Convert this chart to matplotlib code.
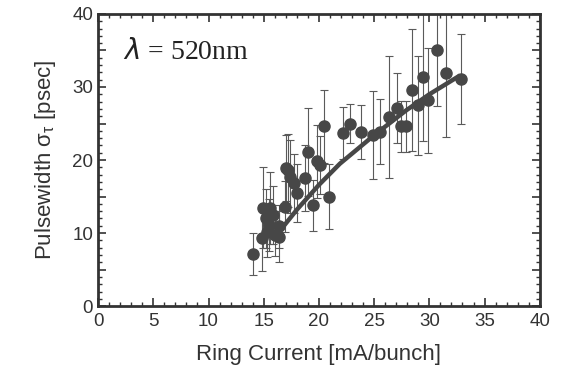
import numpy as np
import matplotlib.pyplot as plt
from matplotlib.ticker import MultipleLocator, FuncFormatter

plt.rcParams.update({
    "font.family": "Liberation Sans",
    "mathtext.default": "regular",
    "xtick.direction": "in",
    "ytick.direction": "in",
    "xtick.top": True,
    "ytick.right": True,
})

# ring current [mA/bunch], pulsewidth [psec], error [psec]
current = [14.0, 14.8, 14.9, 15.2, 15.3, 15.5, 15.6, 15.8, 16.0, 16.4,
           16.4, 16.9, 17.0, 17.2, 17.4, 17.7, 18.0, 18.7, 19.0, 19.5,
           19.8, 20.1, 20.5, 20.9, 22.2, 22.8, 23.8, 24.9, 25.5, 26.3,
           27.1, 27.4, 27.9, 28.4, 29.0, 29.4, 29.9, 30.7, 31.5, 32.9]
width = [7.1, 9.3, 13.5, 12.0, 10.2, 11.1, 13.4, 12.5, 9.8, 9.5,
         10.9, 13.6, 18.9, 18.6, 17.7, 16.8, 15.5, 17.5, 21.1, 13.8,
         19.8, 19.3, 24.6, 15.0, 23.7, 25.0, 23.9, 23.4, 23.9, 25.9,
         27.1, 24.6, 24.6, 29.6, 27.5, 31.3, 28.2, 35.1, 31.9, 31.1]
err = [2.9, 4.5, 5.5, 4.0, 3.5, 3.5, 4.9, 4.0, 3.0, 3.5,
       3.0, 3.5, 4.5, 5.0, 5.0, 4.0, 4.0, 4.5, 6.0, 3.5,
       5.0, 4.0, 5.0, 4.5, 3.5, 2.7, 3.7, 6.0, 4.5, 8.3,
       4.8, 3.5, 3.5, 8.4, 6.8, 8.7, 7.2, 7.7, 8.8, 6.2]

# fitted curve
fit_x = [16.3, 18.0, 20.0, 21.9, 25.0, 27.9, 30.0, 32.8]
fit_y = [10.0, 13.2, 16.6, 19.5, 23.4, 26.8, 29.0, 31.6]

DARK = "#474747"

fig = plt.figure(figsize=(5.67, 3.87), dpi=100)
ax = fig.add_axes([0.173, 0.209, 0.779, 0.755])

ax.errorbar(current, width, yerr=err, fmt="none", ecolor="#5a5a5a",
            elinewidth=0.8, capsize=3, capthick=0.8, zorder=2)
ax.plot(fit_x, fit_y, color=DARK, lw=3.2, solid_capstyle="butt", zorder=3)
ax.plot(current, width, "o", color=DARK, markersize=8, zorder=4)

ax.set_xlim(0, 40)
ax.set_ylim(0, 40)
ax.xaxis.set_major_locator(MultipleLocator(5))
ax.xaxis.set_minor_locator(MultipleLocator(1))
ax.yaxis.set_major_locator(MultipleLocator(5))
ax.yaxis.set_minor_locator(MultipleLocator(1))
ax.yaxis.set_major_formatter(FuncFormatter(lambda v, p: f"{int(v)}" if v % 10 == 0 else ""))
ax.tick_params(which="major", length=6, width=1.2, labelsize=13.5, colors="#333333")
ax.tick_params(which="minor", length=3, width=1.0, colors="#333333")
ax.tick_params(axis="x", pad=5)
for s in ax.spines.values():
    s.set_linewidth(2.0)
    s.set_color("#333333")

ax.set_xlabel("Ring Current [mA/bunch]", fontsize=16, color="#333333", labelpad=10)
ax.set_ylabel(r"Pulsewidth $\sigma_\tau$ [psec]", fontsize=16, color="#333333", labelpad=10)

ax.text(2.3, 34.8, r"$\mathit{\lambda}$ = 520nm", fontsize=20, family="Liberation Serif",
        va="center", ha="left", color="#222222")

fig.savefig("out.png", dpi=100, facecolor="white")
